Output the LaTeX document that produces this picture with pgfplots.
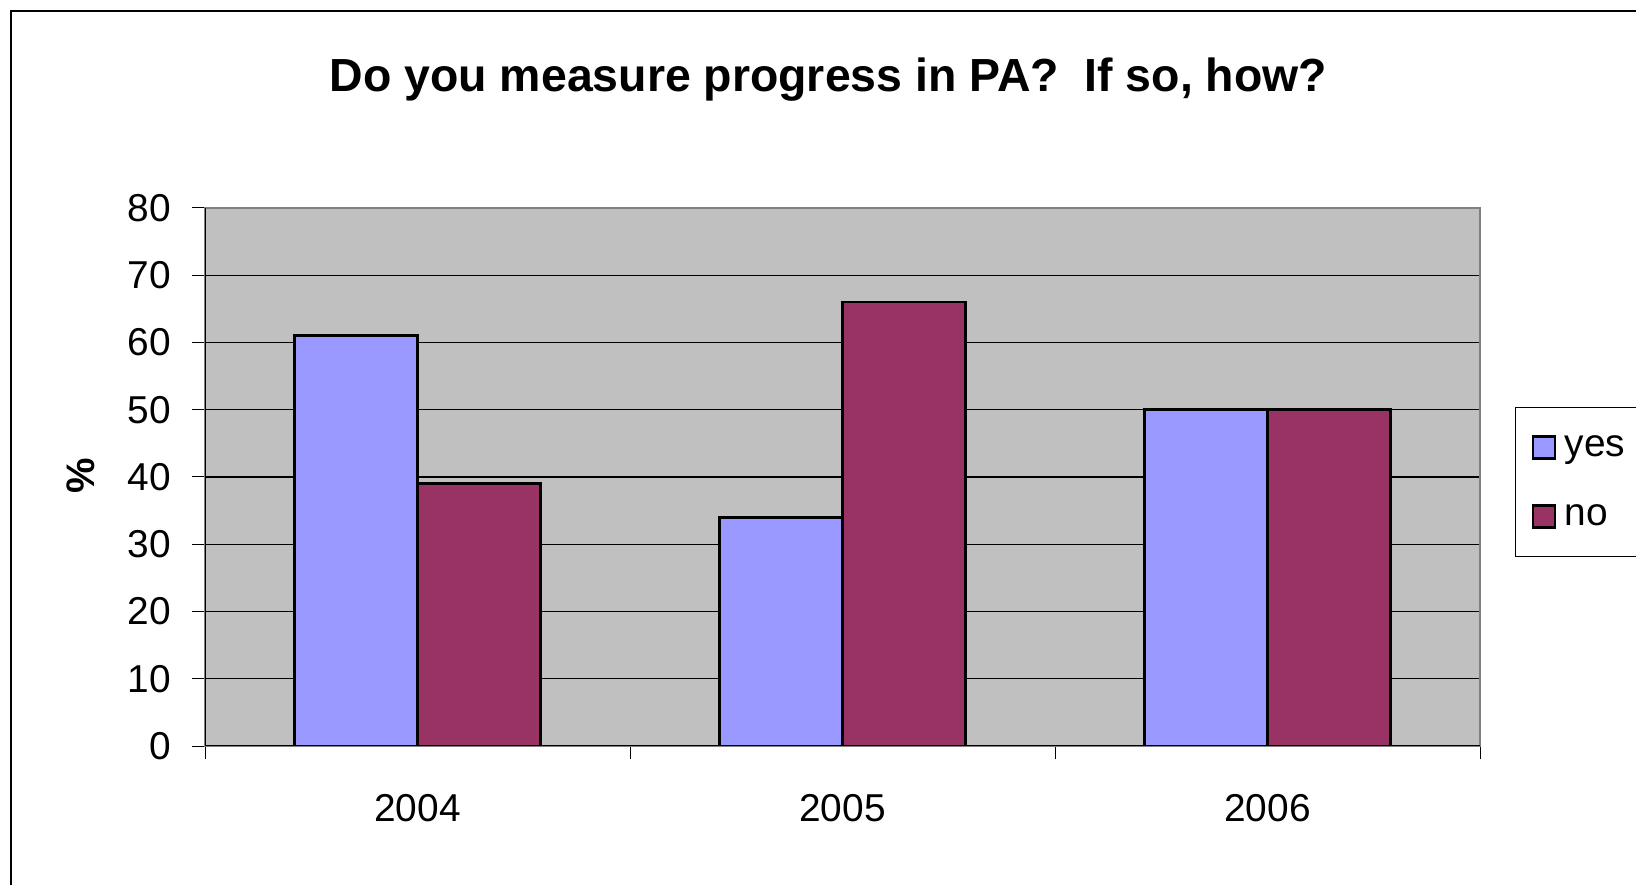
\documentclass[border=0pt]{standalone}
\usepackage{fontspec}
\setmainfont{Liberation Sans}
\usepackage{pgfplots}
\pgfplotsset{compat=1.18}

\definecolor{yesbar}{RGB}{153,153,255}
\definecolor{nobar}{RGB}{153,51,102}
\definecolor{plotbg}{RGB}{192,192,192}
\definecolor{rim}{RGB}{128,128,128}

\begin{document}
\begin{tikzpicture}
% page = reference canvas, 1636 x 885 px at 0.5bp per px
\useasboundingbox (0bp,0bp) rectangle (818bp,442.5bp);
\draw[line width=0.6bp] (5.5bp,-30bp) rectangle (860bp,437bp);
\begin{axis}[
    at={(102.5bp,69.5bp)}, anchor=south west,
    scale only axis, width=637.5bp, height=269bp,
    ybar=0pt, bar width=0.29,
    xmin=-0.5, xmax=2.5, ymin=0, ymax=80,
    xtick={-0.5,0.5,1.5,2.5}, x tick label as interval,
    xticklabels={2004,2005,2006},
    ytick={0,10,...,80},
    tick align=outside, tick pos=left,
    major tick length=6.5bp,
    xtick style={black, line width=0.5bp},
    ytick style={black, line width=0.5bp},
    ymajorgrids, grid style={black, line width=0.6bp},
    axis background/.style={fill=plotbg},
    axis line style={rim, line width=1.2bp},
    /pgf/number format/assume math mode=true,
    tick label style={font=\fontsize{19.5}{23}\selectfont},
    xticklabel style={yshift=-14bp},
    yticklabel style={xshift=-7bp},
    title={Do you measure progress in PA?\ \ If so, how?},
    title style={font=\fontsize{23.3}{28}\bfseries, at={(rel axis cs:0.489,1.217)}, anchor=center},
    ylabel={\%},
    ylabel style={font=\fontsize{20}{24}\bfseries, at={(rel axis cs:-0.0973,0.502)}, anchor=center},
    legend style={at={(rel axis cs:1.0275,0.630)}, anchor=north west,
        draw=black, line width=0.5bp, fill=white,
        font=\fontsize{19.5}{23}\selectfont,
        row sep=18.5bp, inner xsep=8bp, inner ysep=12bp,
        cells={anchor=west}},
    legend image code/.code={%
        \path[draw=none, fill=none] (0bp,0bp) -- (14bp,0bp);
        \draw[#1, line width=1.2bp] (0bp,-5.5bp) rectangle (11bp,5.5bp);},
]
\addplot[fill=yesbar, draw=black, line width=1.3bp] coordinates {(0,61) (1,34) (2,50)};
\addplot[fill=nobar, draw=black, line width=1.3bp] coordinates {(0,39) (1,66) (2,50)};
\legend{yes,no}
\draw[black, line width=0.8bp] (rel axis cs:0,1) -- (rel axis cs:0,0) -- (rel axis cs:1,0);
\end{axis}
\end{tikzpicture}
\end{document}
